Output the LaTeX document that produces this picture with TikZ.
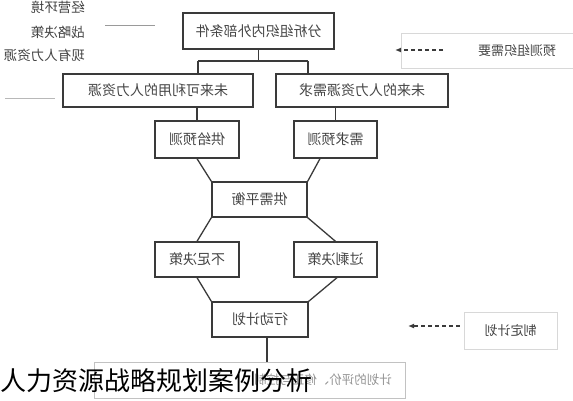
\documentclass[tikz,border=0pt]{standalone}
\usepackage{fontspec}
\usepackage{graphicx}
\setmainfont{Noto Sans CJK SC}
\usetikzlibrary{arrows.meta}
\definecolor{lineC}{HTML}{3A3A3A}
\definecolor{txtC}{HTML}{444444}
\definecolor{faintC}{HTML}{D8D8D8}
\definecolor{sideC}{HTML}{9A9A9A}
\tikzset{
  box/.style={draw=lineC, line width=1.3pt, inner sep=0pt, text=txtC, font=\fontsize{14}{14}\selectfont},
  softbox/.style={draw=faintC, line width=0.8pt, inner sep=0pt, text=txtC, font=\fontsize{13}{13}\selectfont},
  conn/.style={draw=lineC, line width=1.3pt},
  dasharrow/.style={draw=lineC, line width=1.4pt, dash pattern=on 4pt off 3pt, -{Latex[length=6pt,width=5pt]}},
  sidelabel/.style={anchor=east, inner sep=0pt, text=txtC, font=\fontsize{13.5}{13.5}\selectfont},
  sideline/.style={draw=sideC, line width=1pt}
}
\begin{document}
\begin{tikzpicture}[x=1pt,y=-1pt]
\useasboundingbox (0,0) rectangle (573,400);
% left side labels
\node[sidelabel] (l1) at (85,7) {\reflectbox{经营环境}};
\node[sidelabel] (l2) at (85,32) {\reflectbox{战略决策}};
\node[sidelabel] (l3) at (85,55) {\reflectbox{现有人力资源}};
\coordinate (s1a) at (105,25); \coordinate (s1b) at (155,25);
\coordinate (s2a) at (5,98); \coordinate (s2b) at (55,98);
\draw[sideline] (s1a) -- (s1b);
\draw[sideline, draw=sideC!70] (s2a) -- (s2b);
% main boxes
\node[box, minimum width=151pt, minimum height=36pt] (top) at (258.5,31) {\reflectbox{分析组织内外部条件}};
\node[box, minimum width=190pt, minimum height=33pt] (L2) at (158,90.5) {\reflectbox{未来可利用的人力资源}};
\node[box, minimum width=172pt, minimum height=33pt] (R2) at (362,90.5) {\reflectbox{未来的人力资源需求}};
\node[box, minimum width=84pt, minimum height=37pt] (gy) at (197,139.5) {\reflectbox{供给预测}};
\node[box, minimum width=83pt, minimum height=37pt] (xq) at (335.5,139.5) {\reflectbox{需求预测}};
\node[box, minimum width=95pt, minimum height=35pt] (ph) at (259.5,199.5) {\reflectbox{供需平衡}};
\node[box, minimum width=84pt, minimum height=35pt] (bz) at (197,259.5) {\reflectbox{不足决策}};
\node[box, minimum width=83pt, minimum height=35pt] (gs) at (335.5,259.5) {\reflectbox{过剩决策}};
\node[box, minimum width=96pt, minimum height=35pt] (xd) at (260,319.5) {\reflectbox{行动计划}};
\node[softbox, draw=faintC!90!black, minimum width=311pt, minimum height=36pt] (pj) at (249.5,380) {};
\node[anchor=east, inner sep=0pt, text=gray!85, font=\fontsize{12.5}{12.5}\selectfont] (pjt) at (392,380) {\reflectbox{计划的评价、修正与控制}};
% right side boxes
\node[softbox, minimum width=232pt, minimum height=35pt] (yc) at (517,50.5) {\reflectbox{预测组织需要}};
\node[softbox, minimum width=93pt, minimum height=37pt] (zd) at (510.5,330.5) {\reflectbox{制定计划}};
% connectors
\coordinate (j1) at (top.south |- 0,61);
\draw[conn] (top.south) -- (j1);
\draw[conn] ([xshift=40pt]L2.north |- j1) -- ([xshift=-54pt]R2.north |- j1);
\draw[conn] ([xshift=40pt]L2.north |- j1) -- ([xshift=40pt]L2.north);
\draw[conn] ([xshift=-54pt]R2.north |- j1) -- ([xshift=-54pt]R2.north);
\draw[conn] (L2.south -| gy.north) -- (gy.north);
\draw[conn] (R2.south -| xq.north) -- (xq.north);
\draw[conn] (gy.south) -- (ph.north west);
\draw[conn] ([xshift=-15.5pt]xq.south) -- (ph.north east);
\draw[conn] (ph.south west) -- (bz.north);
\draw[conn] (ph.south east) -- (gs.north);
\draw[conn] (bz.south) -- (xd.north west);
\draw[conn] ([xshift=1.5pt]gs.south) -- (xd.north east);
\draw[conn] ([xshift=7pt]xd.south) -- ([xshift=17.5pt]pj.north);
% dashed arrows
\coordinate (a1) at (443,50); \coordinate (a2) at (395,50);
\draw[dasharrow] (a1) -- (a2);
\coordinate (b2) at (408,326);
\draw[dasharrow] ([xshift=-4pt]zd.west |- b2) -- (b2);
% title overlay
\node[anchor=west, inner sep=0pt, text=black, font=\fontsize{26}{26}\selectfont] (title) at (0,381) {人力资源战略规划案例分析};
\end{tikzpicture}
\end{document}
